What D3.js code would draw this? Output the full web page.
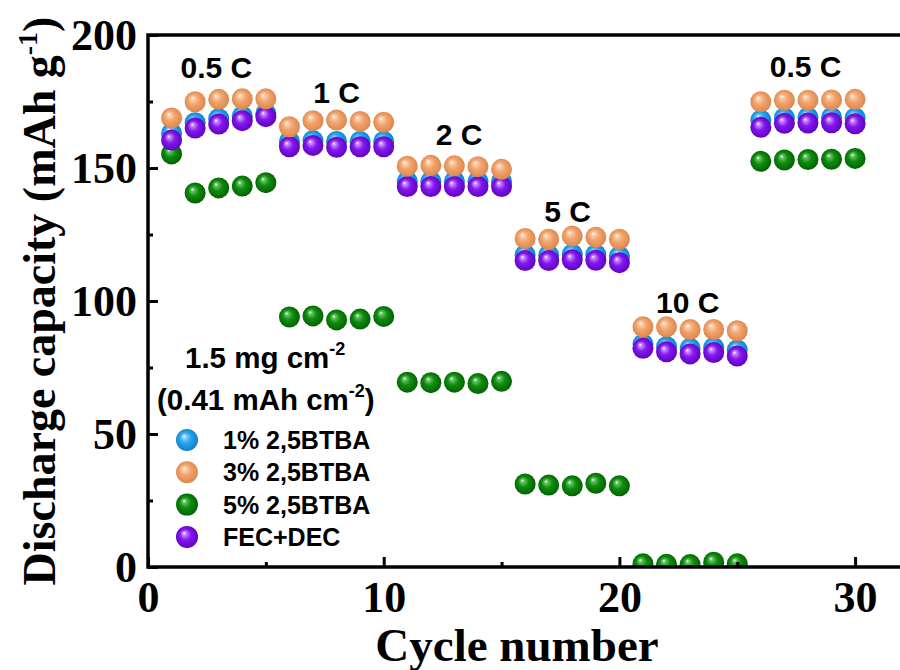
<!DOCTYPE html>
<html><head><meta charset="utf-8">
<script src="https://cdn.jsdelivr.net/npm/d3@7"></script>
<style>body{margin:0;background:#fff}</style>
</head><body>
<svg id="c" width="900" height="670"></svg>
<script>
// ---------- data ----------
const cycles = d3.range(1, 31);
const seriesNames = ["1% 2,5BTBA", "3% 2,5BTBA", "5% 2,5BTBA", "FEC+DEC"];
const blue1 = [163,167,168.5,169.5,170.5, 160,160.3,160,160,160, 145,145,145,145,145,
  117.3,117.2,117.6,117.4,116.8, 83.8,82.8,82.2,82.5,81.6, 168,168.8,169,169,168.8];
const orange3 = [168.8,174.9,175.8,176,176, 165.5,167.8,168,167.5,167.2, 150.7,151,150.8,150.5,149.5,
  123.5,123.2,124.4,124,123.2, 90.3,90.3,89.3,89.3,88.8, 174.9,175.5,175.5,175.6,175.8];
const green5 = [155.3,140.6,142.5,143.2,144.5, 94,94.4,92.9,93.2,94.2, 69.5,69.3,69.5,69,69.8,
  31.2,30.8,30.5,31.5,30.5, 1.2,1.0,0.9,1.8,1.2, 152.5,153,153.2,153.3,153.6];
const purpleFEC = [160.5,165,166.5,167.8,169.3, 158,158.5,157.8,158,158, 143,143,143,143,143,
  115.2,115.2,115.5,115.3,114.4, 82.2,80.9,80.1,80.6,79.3, 165.3,166.8,166.9,167,166.6];
const xTicks = [0, 10, 20, 30];
const xMinor = [5, 15, 25];
const yTicks = [0, 50, 100, 150, 200];
const yMinor = [25, 75, 125, 175];
const rateLabels = ["0.5 C", "1 C", "2 C", "5 C", "10 C", "0.5 C"];
const rateCycle = [2.9, 8, 13.2, 17.8, 22.9, 27.9];
const rateValue = [183.8, 174.4, 158.6, 129.7, 95.5, 184.2];

// ---------- layout ----------
const svg = d3.select("#c");
const L = 148, T = 35, B = 567, R = 900;
const x = d3.scaleLinear().domain([0, (R - L) / 23.57]).range([L, R]);
const y = d3.scaleLinear().domain([0, 200]).range([B, T]);
const serif = "'Liberation Serif','Times New Roman',serif";
const sans = "'Liberation Sans',Arial,sans-serif";

const colors = {
  blue:   ["#ffffff", "#8fd2fb", "#2aa6ee", "#0b78cc"],
  orange: ["#ffffff", "#fbd0b0", "#f2a46c", "#d9834a"],
  green:  ["#ffffff", "#6cc46c", "#0e8e0e", "#005c00"],
  purple: ["#ffffff", "#c88bff", "#8418ee", "#5a00bb"]
};
const defs = svg.append("defs");
Object.entries(colors).forEach(([k, c]) => {
  const g = defs.append("radialGradient").attr("id", "g-" + k)
    .attr("cx", "50%").attr("cy", "50%").attr("r", "55%")
    .attr("fx", "36%").attr("fy", "32%");
  g.append("stop").attr("offset", "0%").attr("stop-color", c[0]);
  g.append("stop").attr("offset", "14%").attr("stop-color", c[1]);
  g.append("stop").attr("offset", "45%").attr("stop-color", c[2]);
  g.append("stop").attr("offset", "100%").attr("stop-color", c[3]);
});
defs.append("clipPath").attr("id", "plotclip").append("rect")
  .attr("x", L).attr("y", T).attr("width", R - L + 20).attr("height", B - T);

const series = [
  {name: seriesNames[0], vals: blue1, col: "blue"},
  {name: seriesNames[1], vals: orange3, col: "orange"},
  {name: seriesNames[2], vals: green5, col: "green"},
  {name: seriesNames[3], vals: purpleFEC, col: "purple"}
];
const drawOrder = [2, 0, 3, 1];
const rBall = 10.5;

const plot = svg.append("g").attr("clip-path", "url(#plotclip)");
drawOrder.forEach(i => {
  const s = series[i];
  plot.append("g").selectAll("circle").data(cycles).join("circle")
    .attr("cx", (d) => x(d)).attr("cy", (d, j) => y(s.vals[j]))
    .attr("r", rBall).attr("fill", "url(#g-" + s.col + ")");
});

// ---------- axes ----------
function styleAxis(g) {
  g.select(".domain").remove();
  g.selectAll(".tick line").attr("stroke", "#000").attr("stroke-width", 3);
}
const gx = svg.append("g").attr("transform", `translate(0,${B})`)
  .call(d3.axisBottom(x).tickValues(xTicks).tickSize(-10).tickFormat(d3.format("d")));
styleAxis(gx);
gx.selectAll(".tick text").attr("y", 45).attr("dy", 0)
  .attr("font-family", serif).attr("font-weight", "bold").attr("font-size", 44).attr("fill", "#000");
const gxm = svg.append("g").attr("transform", `translate(0,${B})`)
  .call(d3.axisBottom(x).tickValues(xMinor).tickSize(-5).tickFormat(""));
styleAxis(gxm);

const gy = svg.append("g").attr("transform", `translate(${L},0)`)
  .call(d3.axisLeft(y).tickValues(yTicks).tickSize(-10).tickFormat(d3.format("d")));
styleAxis(gy);
gy.selectAll(".tick text").attr("x", -11).attr("dy", "0.33em")
  .attr("font-family", serif).attr("font-weight", "bold").attr("font-size", 44).attr("fill", "#000");
const gym = svg.append("g").attr("transform", `translate(${L},0)`)
  .call(d3.axisLeft(y).tickValues(yMinor).tickSize(-5).tickFormat(""));
styleAxis(gym);

// frame
svg.append("rect").attr("x", L).attr("y", T).attr("width", R - L + 20).attr("height", B - T)
  .attr("fill", "none").attr("stroke", "#000").attr("stroke-width", 3.5);

// axis titles
svg.append("text").attr("x", 517).attr("y", 661).attr("text-anchor", "middle")
  .attr("font-family", serif).attr("font-weight", "bold").attr("font-size", 47)
  .text("Cycle number");
const yt = svg.append("text").attr("transform", "translate(55,301) rotate(-90)")
  .attr("text-anchor", "middle").attr("font-family", serif).attr("font-weight", "bold")
  .attr("font-size", 46);
yt.append("tspan").text("Discharge capacity (mAh g");
yt.append("tspan").attr("font-size", 28).attr("dy", -18).text("-1");
yt.append("tspan").attr("dy", 18).text(")");

// rate labels
svg.append("g").selectAll("text").data(rateLabels).join("text")
  .attr("x", (d, i) => x(rateCycle[i])).attr("y", (d, i) => y(rateValue[i]))
  .attr("text-anchor", "middle").attr("font-family", sans).attr("font-weight", "bold")
  .attr("font-size", 30).text(d => d);

// loading annotation
const a1 = svg.append("text").attr("x", 185).attr("y", 368)
  .attr("font-family", sans).attr("font-weight", "bold").attr("font-size", 29.5);
a1.append("tspan").text("1.5 mg cm");
a1.append("tspan").attr("font-size", 18).attr("dy", -13).text("-2");
const a2 = svg.append("text").attr("x", 157).attr("y", 410)
  .attr("font-family", sans).attr("font-weight", "bold").attr("font-size", 29.5);
a2.append("tspan").text("(0.41 mAh cm");
a2.append("tspan").attr("font-size", 18).attr("dy", -13).text("-2");
a2.append("tspan").attr("dy", 13).text(")");

// legend
const leg = svg.append("g");
series.forEach((s, i) => {
  const cy = 440 + i * 32.3;
  leg.append("circle").attr("cx", 187).attr("cy", cy).attr("r", 11)
    .attr("fill", "url(#g-" + s.col + ")");
  leg.append("text").attr("x", 223).attr("y", cy + 9)
    .attr("font-family", sans).attr("font-weight", "bold").attr("font-size", 25)
    .text(s.name);
});
</script>
</body></html>
